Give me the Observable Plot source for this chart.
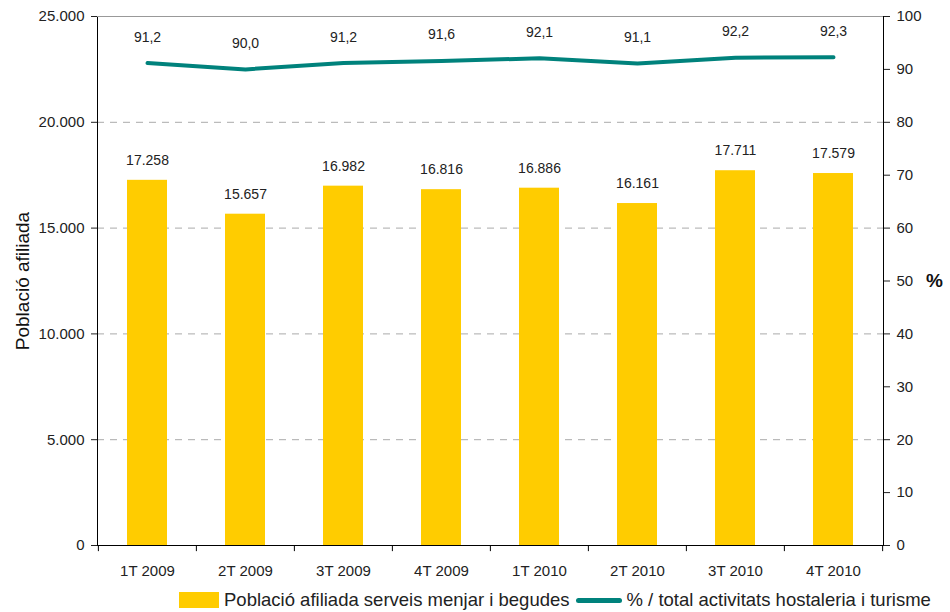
<!DOCTYPE html>
<html>
<head>
<meta charset="utf-8">
<script src="https://cdn.jsdelivr.net/npm/d3@7"></script>
<script src="https://cdn.jsdelivr.net/npm/@observablehq/plot@0.6"></script>
<style>
  html, body { margin: 0; padding: 0; background: #fff; }
  body { width: 950px; height: 612px; position: relative; overflow: hidden;
         font-family: "Liberation Sans", Arial, sans-serif; color: #222; }
  #legend { position: absolute; left: 179px; top: 589px; height: 22px; display: flex; align-items: center; font-size: 18.5px; white-space: nowrap; }
  .sw-bar { width: 40px; height: 16px; background: #ffcc00; margin-right: 5px; }
  .sw-line { width: 46px; height: 5px; border-radius: 3px; background: #00827c; margin: 0 5px 0 6px; }
</style>
</head>
<body>
<div id="chart"></div>
<div id="legend">
  <div class="sw-bar"></div><span>Població afiliada serveis menjar i begudes</span>
  <div class="sw-line"></div><span>% / total activitats hostaleria i turisme</span>
</div>
<script>
const categories = ["1T 2009", "2T 2009", "3T 2009", "4T 2009", "1T 2010", "2T 2010", "3T 2010", "4T 2010"];
const poblacio = [17258, 15657, 16982, 16816, 16886, 16161, 17711, 17579];
const percent = [91.2, 90.0, 91.2, 91.6, 92.1, 91.1, 92.2, 92.3];
const leftTicks = [0, 5000, 10000, 15000, 20000, 25000];
const rightTicks = [0, 10, 20, 30, 40, 50, 60, 70, 80, 90, 100];

const data = categories.map((c, i) => ({cat: c, val: poblacio[i], pct: percent[i]}));
const k = 25000 / 100; // right axis scale factor
const fmtInt = d3.format(",");
const fmtThousands = d => fmtInt(d).replace(/,/g, ".");
const fmtPct = d => d.toFixed(1).replace(".", ",");

const font = '"Liberation Sans", Arial, sans-serif';
const plot = Plot.plot({
  width: 950,
  height: 589,
  marginLeft: 97,
  marginRight: 67,
  marginTop: 16,
  marginBottom: 44,
  style: {fontFamily: font, fontSize: "15px", color: "#222", background: "#fff"},
  x: {domain: categories, paddingInner: 0.593, paddingOuter: 0.2965, label: null},
  y: {domain: [0, 25000], label: null},
  marks: [
    Plot.ruleY([5000, 10000, 15000, 20000], {stroke: "#aaa", strokeDasharray: "7,6"}),
    Plot.barY(data, {x: "cat", y: "val", fill: "#ffcc00"}),
    Plot.text(data, {x: "cat", y: "val", text: d => fmtThousands(d.val), dy: -20, fontSize: 14, fill: "#222"}),
    Plot.line(data, {x: "cat", y: d => d.pct * k, stroke: "#00827c", strokeWidth: 4, strokeLinecap: "round", strokeLinejoin: "round"}),
    Plot.text(data, {x: "cat", y: d => d.pct * k, text: d => fmtPct(d.pct), dy: -26, fontSize: 14, fill: "#222"}),
    Plot.frame({stroke: "#000"}),
    Plot.ruleY([25000], {stroke: "#999"}),
    Plot.axisY({anchor: "left", ticks: leftTicks, tickFormat: fmtThousands, tickSize: 6, tickPadding: 7, label: null, fontSize: 15}),
    Plot.axisY({anchor: "right", ticks: rightTicks.map(v => v * k), tickFormat: d => String(d / k), tickSize: 6, tickPadding: 7, label: null, fontSize: 15}),
    Plot.axisX({tickSize: 0, tickPadding: 20, label: null, fontSize: 15}),
    Plot.ruleX(categories, {x: d => d, dx: -49.125, y1: 0, y2: -290, stroke: "#000"}),
    Plot.ruleX([categories[categories.length - 1]], {x: d => d, dx: 49.125, y1: 0, y2: -290, stroke: "#000"}),
    Plot.text(["Població afiliada"], {frameAnchor: "left", dx: -75, rotate: -90, textAnchor: "middle", fontSize: 19, fill: "#111"}),
    Plot.text(["%"], {frameAnchor: "right", dx: 51, textAnchor: "middle", fontSize: 19, fontWeight: "bold", fill: "#111"})
  ]
});
document.getElementById("chart").appendChild(plot);
</script>
</body>
</html>
